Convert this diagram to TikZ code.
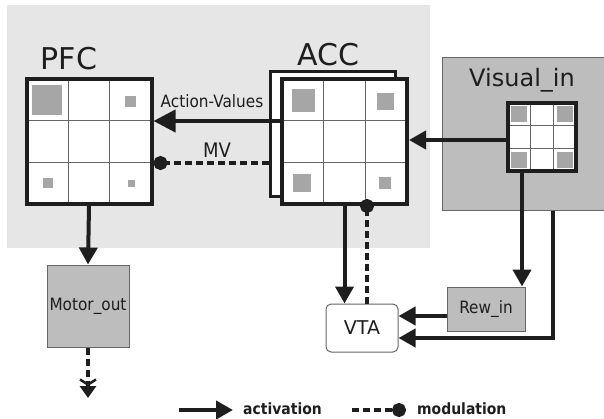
\documentclass[tikz,border=0pt]{standalone}
\usepackage{fontspec}
\setmainfont{DejaVu Sans}
\newfontfamily\narrowfont[FakeStretch=0.9]{DejaVu Sans}
\usetikzlibrary{arrows.meta, calc, positioning}

\definecolor{panel}{HTML}{E6E6E6}
\definecolor{boxgrey}{HTML}{BDBDBD}
\definecolor{unitgrey}{HTML}{A6A6A6}
\definecolor{ink}{HTML}{1E1E1E}
\definecolor{thin}{HTML}{666666}

\tikzset{
  layer/.style={draw=ink, line width=4pt, fill=white, minimum size=#1, inner sep=0pt},
  backframe/.style={draw=ink, line width=3pt, fill=white, minimum size=125pt, inner sep=0pt},
  module/.style={draw=thin, line width=1pt, fill=boxgrey, inner sep=0pt, text=ink},
  cellline/.style={draw=thin, line width=1.3pt},
  unit/.style={fill=unitgrey},
  act/.style={draw=ink, line width=4pt, -{Triangle[length=17pt,width=18pt]}},
  modl/.style={draw=ink, line width=4pt, dash pattern=on 7pt off 4pt, -{Circle[length=14pt]}},
  title/.style={text=ink, font=\fontsize{30}{32}\selectfont},
  small/.style={text=ink, font=\narrowfont\fontsize{17}{19}\selectfont},
  legend/.style={text=ink, anchor=west, inner sep=0pt, font=\narrowfont\bfseries\fontsize{15.5}{17}\selectfont},
}

% inner lines of a 3x3 layer: centre x, centre y, half size
\newcommand{\gridcells}[3]{%
  \foreach \k in {-1,1}
    \draw[cellline] (#1+\k*#3/3, #2-#3+2) -- (#1+\k*#3/3, #2+#3-2)
                    (#1-#3+2, #2+\k*#3/3) -- (#1+#3-2, #2+\k*#3/3);}
% active unit: centre x, centre y, side
\newcommand{\unitsq}[3]{\fill[unit] (#1-#3/2, #2-#3/2) rectangle ++(#3,#3);}

\begin{document}
\begin{tikzpicture}[x=1pt, y=-1pt]
\useasboundingbox (0,0) rectangle (604,418);

% grey panel behind PFC and ACC
\fill[panel] (7,5) rectangle (430,248);

% PFC
\node[title] (pfclabel) at (69,59) {PFC};
\node[layer=125pt] (pfc) at (89,141.5) {};
\gridcells{89}{141.5}{62.5}
\unitsq{47.3}{99.8}{30}
\unitsq{130.7}{101}{11}
\unitsq{48}{183}{10}
\unitsq{131}{183}{7}

% ACC
\node[backframe] (accback) at (332.5,133.5) {};
\node[layer=125pt] (acc) at (344.5,141.5) {};
\gridcells{344.5}{141.5}{62.5}
\unitsq{303}{100}{23}
\unitsq{385}{101}{17}
\unitsq{302}{183}{18}
\unitsq{385}{183}{12}
\node[title] (acclabel) at (328,55) {ACC};

% visual input
\node[module, minimum width=164pt, minimum height=153pt] (visbox) at (524,133.5) {};
\node[text=ink, font=\fontsize{24}{26}\selectfont] (vislabel) at (522,80) {Visual\_in};
\node[layer=68pt] (vis) at (542,137) {};
\gridcells{542}{137}{34}
\unitsq{519.3}{114.3}{16}
\unitsq{564.7}{114.3}{16}
\unitsq{519.3}{159.7}{16}
\unitsq{564.7}{159.7}{16}

% output, reward and VTA
\node[module, minimum width=82pt, minimum height=82pt, font=\narrowfont\fontsize{17}{19}\selectfont] (motor) at (88,306) {Motor\_out};
\node[module, minimum width=78pt, minimum height=44pt, font=\narrowfont\fontsize{17}{19}\selectfont] (rew) at (486,309) {Rew\_in};
\node[draw=thin, line width=1pt, fill=white, rounded corners=5pt, minimum width=72pt, minimum height=48pt, text=ink, font=\fontsize{19}{21}\selectfont] (vta) at (362,328) {VTA};
\coordinate (motorend) at (88,398);

% connections
\draw[act, -{Triangle[length=22pt,width=22pt]}] (acc.west |- 0,121) -- (pfc.east |- 0,121);
\node[small] (avlabel) at (212,101) {Action-Values};
\draw[modl] (accback.west |- 0,163) -- (pfc.east |- 0,163);
\node[small, font=\narrowfont\fontsize{20}{22}\selectfont] (mvlabel) at (217,150) {MV};
\draw[act] (vis.west |- 0,140) -- (acc.east |- 0,140);
\draw[act] (pfc.south) -- (motor.north);
\draw[draw=ink, line width=4pt, dash pattern=on 7pt off 4pt,
  -{Straight Barb[length=5pt,width=16pt,line width=2.5pt]Triangle[length=12pt,width=16pt]}] (motor.south) -- (motorend);
\draw[act] (acc.south) -- (acc.south |- vta.north);
\draw[modl, shorten >=-7pt] (vta.north -| 367,0) -- (acc.south -| 367,0);
\draw[act] (vis.south -| 522,0) -- (rew.north -| 522,0);
\draw[act] (rew.west |- 0,316) -- (vta.east |- 0,316);
\draw[act] (visbox.south -| 553,0) |- (vta.east |- 0,338);

% legend
\coordinate (actstart) at (179,410);
\node[legend] (actlabel) at (243,409) {activation};
\draw[act] (actstart) -- ([xshift=-10pt]actlabel.west |- actstart);
\coordinate (modstart) at (352,410);
\node[legend] (modlabel) at (417,409) {modulation};
\draw[modl] (modstart) -- ([xshift=-11pt]modlabel.west |- modstart);
\end{tikzpicture}
\end{document}
